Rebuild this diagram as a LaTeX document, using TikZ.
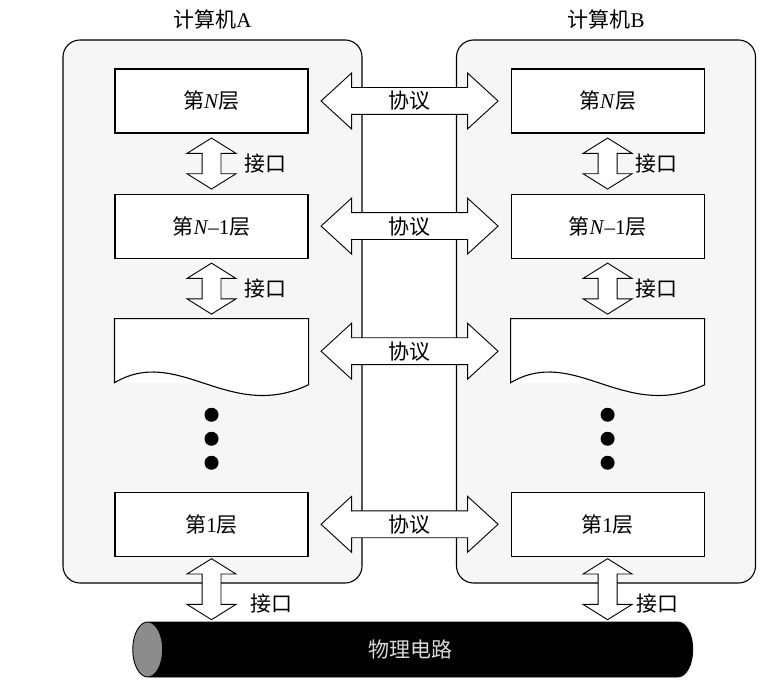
\documentclass[tikz,border=0pt]{standalone}
\usepackage{fontspec}
\setmainfont{Liberation Serif}
\newfontfamily\cjk{Noto Sans CJK SC}
\usetikzlibrary{positioning,calc,shapes.arrows,shapes.geometric}
\definecolor{FrameClr}{RGB}{246,246,246}
\definecolor{EndClr}{RGB}{140,140,140}
\newcommand{\zh}[1]{{\cjk #1}}

\begin{document}
\begin{tikzpicture}[x=1pt,y=1pt,
  every node/.style={font=\fontsize{21}{24}\selectfont},
  frame/.style={draw,line width=1.1pt,rounded corners=17pt,fill=FrameClr,minimum width=299pt,minimum height=543pt},
  layer/.style={draw,line width=1.1pt,fill=white,minimum width=193pt,minimum height=64pt},
  proto/.style={double arrow,draw,line width=0.9pt,fill=white,inner sep=13pt,double arrow head extend=14.5pt,double arrow tip angle=85,minimum height=177pt},
  iface/.style={double arrow,shape border rotate=90,draw,line width=0.9pt,fill=white,inner sep=9pt,double arrow head extend=15pt,double arrow tip angle=116},
  dot/.style={circle,fill=black,inner sep=0pt,minimum size=14pt},
  cable/.style={cylinder,shape border rotate=180,draw,line width=0.9pt,cylinder uses custom fill,cylinder body fill=black,cylinder end fill=EndClr,minimum height=560pt,minimum width=55pt,aspect=1.15,text=gray!30}
]
\useasboundingbox (0,0) rectangle (767,694);

% the two computers
\node[frame] (fa) at (212.5,382.5) {};
\node[frame] (fb) at (606,382.5) {};
\node[above=7pt of fa] (ta) {\zh{计算机}A};
\node[above=7pt of fb] (tb) {\zh{计算机}B};

% layers
\node[layer] (aN) at (211.5,593) {\zh{第}\textit{N}\zh{层}};
\node[layer,below=60pt of aN] (aM) {\zh{第}\textit{N}–1\zh{层}};
\node[layer,draw=none,below=60pt of aM] (aW) {};
\node[layer,below=108pt of aW] (a1) {\zh{第}1\zh{层}};

\node[layer,right=202pt of aN] (bN) {\zh{第}\textit{N}\zh{层}};
\node[layer,right=202pt of aM] (bM) {\zh{第}\textit{N}–1\zh{层}};
\node[layer,draw=none,right=202pt of aW] (bW) {};
\node[layer,right=202pt of a1] (b1) {\zh{第}1\zh{层}};

\draw[line width=1.1pt,fill=white] (aW.north west) -- (aW.north east) -- ([yshift=-1pt]aW.south east)
  .. controls +(-80,-38) and +(64,38) .. ([yshift=1pt]aW.south west) -- cycle;
\draw[line width=1.1pt,fill=white] (bW.north west) -- (bW.north east) -- ([yshift=-1pt]bW.south east)
  .. controls +(-80,-38) and +(64,38) .. ([yshift=1pt]bW.south west) -- cycle;

\foreach \i in {1,2,3}{
  \node[dot] (ad\i) at ([yshift={(-7-24*\i)*1pt}]aW.south) {};
  \node[dot] (bd\i) at ([yshift={(-7-24*\i)*1pt}]bW.south) {};
}

% physical line
\node[cable] (cab) at (424,44.5) {\zh{物理电路}\rule{28pt}{0pt}};

% protocols
\node[proto,label=center:\zh{协议}] (pN) at ($(aN.east)!0.5!(bN.west)$) {};
\node[proto,label=center:\zh{协议}] (pM) at ($(aM.east)!0.5!(bM.west)$) {};
\node[proto,label=center:\zh{协议}] (pW) at ($(aW.east)!0.5!(bW.west)$) {};
\node[proto,label=center:\zh{协议}] (p1) at ($(a1.east)!0.5!(b1.west)$) {};

% interfaces
\node[iface,minimum height=51pt] (iA2) at ($(aN.south)!0.5!(aM.north)$) {};
\node[iface,minimum height=51pt] (iA1) at ($(aM.south)!0.5!(aW.north)$) {};
\node[iface,minimum height=61pt] (iA0) at ($(a1.south)!0.5!(a1.south|-cab.north)$) {};
\node[iface,minimum height=51pt] (iB2) at ($(bN.south)!0.5!(bM.north)$) {};
\node[iface,minimum height=51pt] (iB1) at ($(bM.south)!0.5!(bW.north)$) {};
\node[iface,minimum height=61pt] (iB0) at ($(b1.south)!0.5!(b1.south|-cab.north)$) {};

\node[right=29pt of iA2.center] (jA2) {\zh{接口}};
\node[right=29pt of iA1.center] (jA1) {\zh{接口}};
\node[anchor=west] (jA0) at ([shift={(35pt,-14.5pt)}]iA0.center) {\zh{接口}};
\node[right=24pt of iB2.center] (jB2) {\zh{接口}};
\node[right=24pt of iB1.center] (jB1) {\zh{接口}};
\node[anchor=west] (jB0) at ([shift={(25pt,-14.5pt)}]iB0.center) {\zh{接口}};

\end{tikzpicture}
\end{document}
